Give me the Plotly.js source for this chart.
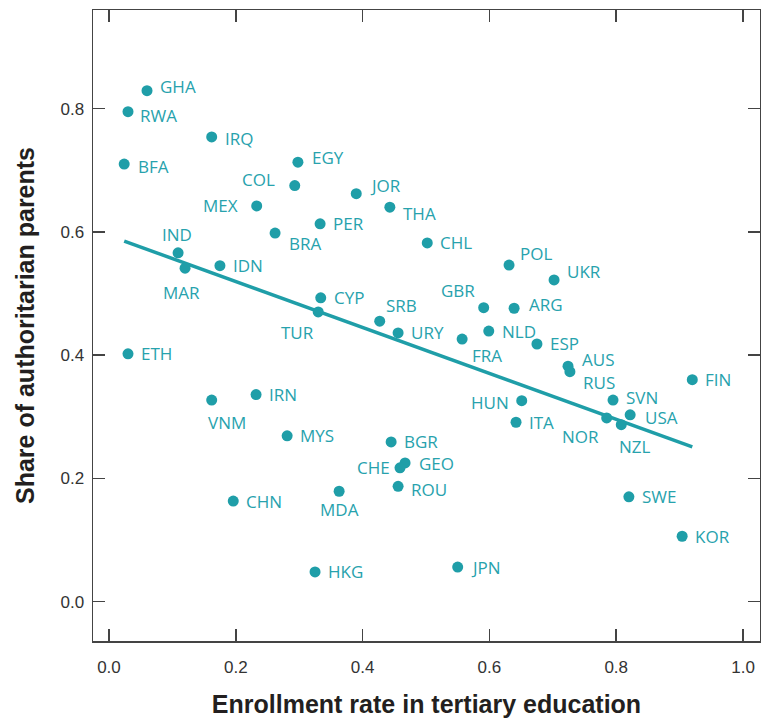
<!DOCTYPE html>
<html>
<head>
<meta charset="utf-8">
<script src="https://cdn.plot.ly/plotly-3.0.1.min.js"></script>
<style>
html,body{margin:0;padding:0;background:#fff;}
#chart{width:761px;height:719px;}
</style>
</head>
<body>
<div id="chart"></div>
<script>
// ---- Data ----
const countries = ["GHA","RWA","IRQ","BFA","EGY","COL","JOR","THA","MEX","PER","BRA","CHL","IND","MAR","IDN","POL","UKR","GBR","ARG","CYP","TUR","SRB","URY","NLD","FRA","ESP","AUS","RUS","ETH","FIN","VNM","IRN","HUN","SVN","ITA","USA","NOR","NZL","MYS","BGR","GEO","CHE","ROU","MDA","CHN","SWE","KOR","HKG","JPN"];
const enrollment = [0.060,0.030,0.162,0.024,0.298,0.293,0.390,0.443,0.233,0.333,0.262,0.502,0.109,0.120,0.175,0.631,0.702,0.591,0.639,0.334,0.330,0.427,0.456,0.599,0.557,0.675,0.724,0.727,0.030,0.920,0.162,0.232,0.651,0.795,0.642,0.822,0.785,0.808,0.281,0.445,0.467,0.459,0.456,0.363,0.196,0.820,0.904,0.325,0.550];
const authoritarian = [0.829,0.795,0.754,0.710,0.713,0.675,0.662,0.640,0.642,0.613,0.598,0.582,0.566,0.541,0.545,0.546,0.522,0.477,0.476,0.493,0.470,0.455,0.436,0.439,0.426,0.418,0.382,0.373,0.402,0.360,0.327,0.336,0.326,0.327,0.291,0.303,0.298,0.287,0.269,0.259,0.225,0.217,0.187,0.179,0.163,0.170,0.106,0.048,0.056];
const fitX = [0.024, 0.920];
const fitY = [0.585, 0.251];
const xTicks = [0, 0.2, 0.4, 0.6, 0.8, 1.0];
const yTicks = [0, 0.2, 0.4, 0.6, 0.8];

// ---- Label placement (style) ----
// [xanchor, xshift, yshift]
const defaultPlace = ["left", 11, 0];
const place = {
  GHA:["left",11,4], RWA:["left",10,-4], IRQ:["left",11,-2], BFA:["left",12,-2],
  EGY:["left",12,5], COL:["right",-18,6], JOR:["left",12,8], THA:["left",11,-6],
  MEX:["right",-17,0], BRA:["left",12,-10], IND:["center",-1,18], MAR:["center",-4,-24],
  POL:["left",9,12], UKR:["left",11,8], GBR:["right",-7,17], ARG:["left",13,4],
  TUR:["center",-21,-21], SRB:["center",22,16], FRA:["left",8,-16],
  AUS:["left",12,7], RUS:["left",11,-11], VNM:["center",15,-22],
  HUN:["right",-11,-2], SVN:["left",11,3], USA:["left",13,-3],
  NOR:["right",-6,-19], NZL:["left",-4,-22], CHE:["right",-8,0],
  ROU:["left",11,-3], MDA:["center",0,-18], GEO:["left",12,-1]
};

const teal = "#1f9ea8";
const annotations = countries.map((c, i) => {
  const p = place[c] || defaultPlace;
  return {
    x: enrollment[i], y: authoritarian[i], xref: "x", yref: "y",
    text: c, showarrow: false,
    xanchor: p[0], yanchor: "middle", xshift: p[1], yshift: p[2],
    font: {family: "Open Sans, sans-serif", size: 17, color: "#27a2ad"}
  };
});

const traces = [
  {
    x: fitX, y: fitY, type: "scatter", mode: "lines",
    line: {color: teal, width: 3.5}, hoverinfo: "skip"
  },
  {
    x: enrollment, y: authoritarian, text: countries, type: "scatter", mode: "markers",
    marker: {color: teal, size: 11}
  }
];

const axisCommon = {
  showgrid: false, zeroline: false, showline: true, mirror: "ticks",
  linecolor: "#444", linewidth: 1.5,
  ticks: "inside", ticklen: 12, tickwidth: 1.5, tickcolor: "#444",
  tickformat: ".1f",
  tickfont: {family: "Liberation Sans Narrow, Arial Narrow, sans-serif", size: 17, color: "#333"}
};

const titleFont = {family: "Liberation Sans Narrow, Arial Narrow, sans-serif", size: 25, color: "#231f20", weight: "bold"};

const layout = {
  width: 761, height: 719,
  margin: {l: 93, r: 1, t: 10, b: 78},
  paper_bgcolor: "#fff", plot_bgcolor: "#fff",
  showlegend: false,
  xaxis: Object.assign({}, axisCommon, {
    range: [-0.0252, 1.0268], tickvals: xTicks,
    ticklabelstandoff: 10,
    title: {text: "Enrollment rate in tertiary education", standoff: 19, font: titleFont}
  }),
  yaxis: Object.assign({}, axisCommon, {
    range: [-0.064, 0.960], tickvals: yTicks,
    ticklabelstandoff: 4,
    title: {text: "Share of authoritarian parents", standoff: 18, font: titleFont}
  }),
  annotations: annotations
};

Plotly.newPlot("chart", traces, layout, {displayModeBar: false, staticPlot: true});
</script>
</body>
</html>
